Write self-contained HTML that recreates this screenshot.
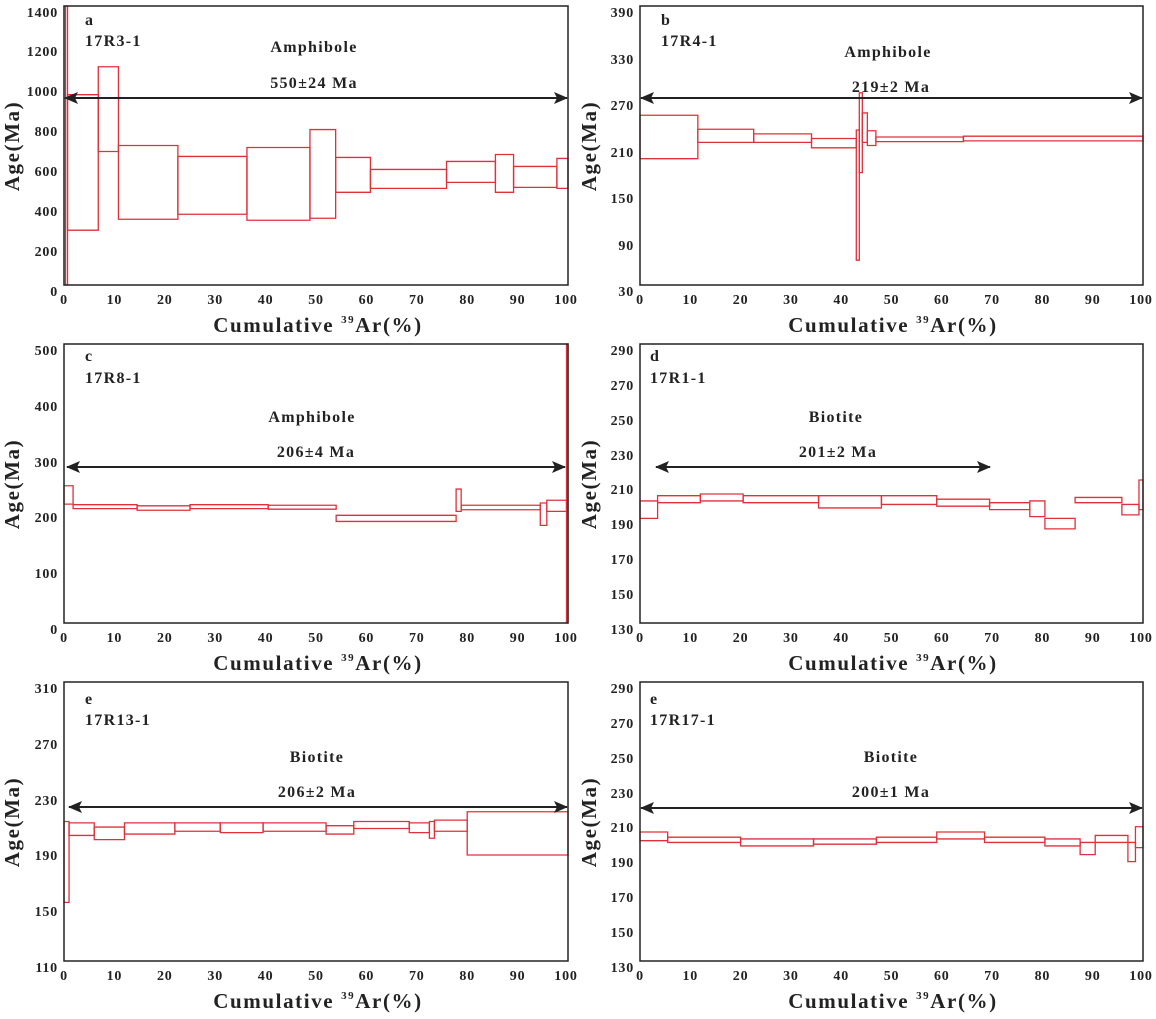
<!DOCTYPE html>
<html><head><meta charset="utf-8"><style>
html,body{margin:0;padding:0;background:#fff}
svg text{font-family:"Liberation Serif",serif;font-weight:bold;fill:#222}
.t{font-size:14px;letter-spacing:0.8px}
.ax{font-size:21px;letter-spacing:1.6px}
.lb{font-size:16px;letter-spacing:1.3px}
</style></head><body>
<svg width="1156" height="1014" xmlns="http://www.w3.org/2000/svg">
<defs>
<marker id="ah" markerWidth="14" markerHeight="12" refX="13" refY="6" orient="auto-start-reverse" markerUnits="userSpaceOnUse"><path d="M0,0 L14,6 L0,12 L3,6 Z" fill="#222"/></marker>
</defs>

<!-- Panel a -->
<g transform="translate(64,6)">
<svg x="0" y="0" width="504" height="279" viewBox="0 -1400 100 1400" preserveAspectRatio="none" overflow="visible">
<g fill="none" stroke="#e0303a" stroke-width="1.3">
<rect x="0.3" y="-1400" width="0.4" height="1400" vector-effect="non-scaling-stroke"/>
<rect x="0.7" y="-955" width="6.1" height="680" vector-effect="non-scaling-stroke"/>
<rect x="6.8" y="-1095" width="4" height="425" vector-effect="non-scaling-stroke"/>
<rect x="10.8" y="-700" width="11.8" height="370" vector-effect="non-scaling-stroke"/>
<rect x="22.6" y="-645" width="13.7" height="290" vector-effect="non-scaling-stroke"/>
<rect x="36.3" y="-690" width="12.5" height="365" vector-effect="non-scaling-stroke"/>
<rect x="48.8" y="-780" width="5.1" height="445" vector-effect="non-scaling-stroke"/>
<rect x="53.9" y="-640" width="6.9" height="175" vector-effect="non-scaling-stroke"/>
<rect x="60.8" y="-580" width="15.1" height="95" vector-effect="non-scaling-stroke"/>
<rect x="75.9" y="-620" width="9.7" height="105" vector-effect="non-scaling-stroke"/>
<rect x="85.6" y="-655" width="3.6" height="190" vector-effect="non-scaling-stroke"/>
<rect x="89.2" y="-595" width="8.6" height="105" vector-effect="non-scaling-stroke"/>
<rect x="97.8" y="-635" width="2.2" height="150" vector-effect="non-scaling-stroke"/>
</g></svg>
<line x1="1" y1="92" x2="503" y2="92" stroke="#222" stroke-width="2" marker-start="url(#ah)" marker-end="url(#ah)"/>
<text class="lb" x="250" y="46" text-anchor="middle">Amphibole</text>
<text class="lb" x="250" y="82" text-anchor="middle">550±24 Ma</text>
<text class="lb" x="21" y="19">a</text><text class="lb" x="21" y="40">17R3-1</text>
<g class="t" text-anchor="end">
<text x="-6" y="290">0</text><text x="-6" y="250">200</text><text x="-6" y="210">400</text><text x="-6" y="170">600</text><text x="-6" y="130">800</text><text x="-6" y="90">1000</text><text x="-6" y="50">1200</text><text x="-6" y="11">1400</text>
</g>
</g>

<!-- Panel b -->
<g transform="translate(640,6)">
<svg x="0" y="0" width="503" height="279" viewBox="0 -390 100 360" preserveAspectRatio="none" overflow="visible">
<g fill="none" stroke="#e0303a" stroke-width="1.3">
<rect x="0" y="-249" width="11.5" height="56" vector-effect="non-scaling-stroke"/>
<rect x="11.5" y="-231" width="11.1" height="17" vector-effect="non-scaling-stroke"/>
<rect x="22.6" y="-225" width="11.5" height="11" vector-effect="non-scaling-stroke"/>
<rect x="34.1" y="-219" width="8.9" height="12" vector-effect="non-scaling-stroke"/>
<rect x="43" y="-230" width="0.6" height="168" vector-effect="non-scaling-stroke"/>
<rect x="43.6" y="-278" width="0.6" height="103" vector-effect="non-scaling-stroke"/>
<rect x="44.2" y="-252" width="1" height="38" vector-effect="non-scaling-stroke"/>
<rect x="45.2" y="-229" width="1.7" height="19" vector-effect="non-scaling-stroke"/>
<rect x="46.9" y="-221" width="17.4" height="6" vector-effect="non-scaling-stroke"/>
<rect x="64.3" y="-222" width="35.7" height="6" vector-effect="non-scaling-stroke"/>
</g></svg>
<line x1="1" y1="92" x2="502" y2="92" stroke="#222" stroke-width="2" marker-start="url(#ah)" marker-end="url(#ah)"/>
<text class="lb" x="248" y="51" text-anchor="middle">Amphibole</text>
<text class="lb" x="251" y="86" text-anchor="middle">219±2 Ma</text>
<text class="lb" x="21" y="19">b</text><text class="lb" x="21" y="40">17R4-1</text>
<g class="t" text-anchor="end">
<text x="-6" y="290">30</text><text x="-6" y="244">90</text><text x="-6" y="197">150</text><text x="-6" y="151">210</text><text x="-6" y="104">270</text><text x="-6" y="58">330</text><text x="-6" y="11">390</text>
</g>
</g>

<!-- Panel c -->
<g transform="translate(64,344)">
<svg x="0" y="0" width="504" height="279" viewBox="0 -500 100 500" preserveAspectRatio="none" overflow="visible">
<g fill="none" stroke="#e0303a" stroke-width="1.3">
<rect x="0" y="-246" width="1.8" height="33" vector-effect="non-scaling-stroke"/>
<rect x="1.8" y="-212" width="12.7" height="7" vector-effect="non-scaling-stroke"/>
<rect x="14.5" y="-210" width="10.5" height="8" vector-effect="non-scaling-stroke"/>
<rect x="25" y="-212" width="15.5" height="7" vector-effect="non-scaling-stroke"/>
<rect x="40.5" y="-211" width="13.5" height="7" vector-effect="non-scaling-stroke"/>
<rect x="54" y="-193" width="23.8" height="11" vector-effect="non-scaling-stroke"/>
<rect x="77.8" y="-240" width="1" height="40" vector-effect="non-scaling-stroke"/>
<rect x="78.8" y="-211" width="15.7" height="8" vector-effect="non-scaling-stroke"/>
<rect x="94.5" y="-215" width="1.3" height="40" vector-effect="non-scaling-stroke"/>
<rect x="95.8" y="-220" width="3.9" height="20" vector-effect="non-scaling-stroke"/>
<rect x="99.7" y="-500" width="0.3" height="500" vector-effect="non-scaling-stroke"/>
</g></svg>
<line x1="3" y1="123" x2="501" y2="123" stroke="#222" stroke-width="2" marker-start="url(#ah)" marker-end="url(#ah)"/>
<text class="lb" x="248" y="78" text-anchor="middle">Amphibole</text>
<text class="lb" x="252" y="113" text-anchor="middle">206±4 Ma</text>
<text class="lb" x="21" y="17">c</text><text class="lb" x="21" y="39">17R8-1</text>
<g class="t" text-anchor="end">
<text x="-6" y="290">0</text><text x="-6" y="234">100</text><text x="-6" y="178">200</text><text x="-6" y="123">300</text><text x="-6" y="67">400</text><text x="-6" y="11">500</text>
</g>
</g>

<!-- Panel d -->
<g transform="translate(640,344)">
<svg x="0" y="0" width="503" height="279" viewBox="0 -290 100 160" preserveAspectRatio="none" overflow="visible">
<g fill="none" stroke="#e0303a" stroke-width="1.3">
<rect x="0" y="-200" width="3.5" height="10" vector-effect="non-scaling-stroke"/>
<rect x="3.5" y="-203" width="8.5" height="4" vector-effect="non-scaling-stroke"/>
<rect x="12" y="-204" width="8.5" height="4" vector-effect="non-scaling-stroke"/>
<rect x="20.5" y="-203" width="15" height="4" vector-effect="non-scaling-stroke"/>
<rect x="35.5" y="-203" width="12.5" height="7" vector-effect="non-scaling-stroke"/>
<rect x="48" y="-203" width="11" height="5" vector-effect="non-scaling-stroke"/>
<rect x="59" y="-201" width="10.5" height="4" vector-effect="non-scaling-stroke"/>
<rect x="69.5" y="-199" width="8" height="4" vector-effect="non-scaling-stroke"/>
<rect x="77.5" y="-200" width="3" height="9" vector-effect="non-scaling-stroke"/>
<rect x="80.5" y="-190" width="6" height="6" vector-effect="non-scaling-stroke"/>
<rect x="86.5" y="-202" width="9.3" height="3" vector-effect="non-scaling-stroke"/>
<rect x="95.8" y="-198" width="3.4" height="6" vector-effect="non-scaling-stroke"/>
<rect x="99.2" y="-212" width="0.8" height="17" vector-effect="non-scaling-stroke"/>
</g></svg>
<line x1="16" y1="123" x2="350" y2="123" stroke="#222" stroke-width="2" marker-start="url(#ah)" marker-end="url(#ah)"/>
<text class="lb" x="196" y="78" text-anchor="middle">Biotite</text>
<text class="lb" x="198" y="113" text-anchor="middle">201±2 Ma</text>
<text class="lb" x="10" y="17">d</text><text class="lb" x="10" y="39">17R1-1</text>
<g class="t" text-anchor="end">
<text x="-6" y="290">130</text><text x="-6" y="255">150</text><text x="-6" y="220">170</text><text x="-6" y="185">190</text><text x="-6" y="150">210</text><text x="-6" y="116">230</text><text x="-6" y="81">250</text><text x="-6" y="46">270</text><text x="-6" y="11">290</text>
</g>
</g>

<!-- Panel e -->
<g transform="translate(64,682)">
<svg x="0" y="0" width="504" height="279" viewBox="0 -310 100 200" preserveAspectRatio="none" overflow="visible">
<g fill="none" stroke="#e0303a" stroke-width="1.3">
<rect x="0" y="-210" width="1" height="58" vector-effect="non-scaling-stroke"/>
<rect x="1" y="-209" width="5" height="9" vector-effect="non-scaling-stroke"/>
<rect x="6" y="-206" width="6" height="9" vector-effect="non-scaling-stroke"/>
<rect x="12" y="-209" width="10" height="8" vector-effect="non-scaling-stroke"/>
<rect x="22" y="-209" width="9" height="6" vector-effect="non-scaling-stroke"/>
<rect x="31" y="-209" width="8.5" height="7" vector-effect="non-scaling-stroke"/>
<rect x="39.5" y="-209" width="12.5" height="6" vector-effect="non-scaling-stroke"/>
<rect x="52" y="-207" width="5.5" height="6" vector-effect="non-scaling-stroke"/>
<rect x="57.5" y="-210" width="11" height="5" vector-effect="non-scaling-stroke"/>
<rect x="68.5" y="-209" width="4" height="7" vector-effect="non-scaling-stroke"/>
<rect x="72.5" y="-210" width="1" height="12" vector-effect="non-scaling-stroke"/>
<rect x="73.5" y="-211" width="6.5" height="8" vector-effect="non-scaling-stroke"/>
<rect x="80" y="-217" width="20" height="31" vector-effect="non-scaling-stroke"/>
</g></svg>
<line x1="5" y1="125" x2="503" y2="125" stroke="#222" stroke-width="2" marker-start="url(#ah)" marker-end="url(#ah)"/>
<text class="lb" x="253" y="80" text-anchor="middle">Biotite</text>
<text class="lb" x="253" y="115" text-anchor="middle">206±2 Ma</text>
<text class="lb" x="21" y="22">e</text><text class="lb" x="21" y="43">17R13-1</text>
<g class="t" text-anchor="end">
<text x="-6" y="290">110</text><text x="-6" y="234">150</text><text x="-6" y="178">190</text><text x="-6" y="123">230</text><text x="-6" y="67">270</text><text x="-6" y="11">310</text>
</g>
</g>

<!-- Panel f -->
<g transform="translate(640,682)">
<svg x="0" y="0" width="503" height="279" viewBox="0 -290 100 160" preserveAspectRatio="none" overflow="visible">
<g fill="none" stroke="#e0303a" stroke-width="1.3">
<rect x="0" y="-204" width="5.5" height="5" vector-effect="non-scaling-stroke"/>
<rect x="5.5" y="-201" width="14.5" height="3" vector-effect="non-scaling-stroke"/>
<rect x="20" y="-200" width="14.5" height="4" vector-effect="non-scaling-stroke"/>
<rect x="34.5" y="-200" width="12.5" height="3" vector-effect="non-scaling-stroke"/>
<rect x="47" y="-201" width="12" height="3" vector-effect="non-scaling-stroke"/>
<rect x="59" y="-204" width="9.5" height="4" vector-effect="non-scaling-stroke"/>
<rect x="68.5" y="-201" width="12" height="3" vector-effect="non-scaling-stroke"/>
<rect x="80.5" y="-200" width="7" height="4" vector-effect="non-scaling-stroke"/>
<rect x="87.5" y="-198" width="3" height="7" vector-effect="non-scaling-stroke"/>
<rect x="90.5" y="-202" width="6.5" height="4" vector-effect="non-scaling-stroke"/>
<rect x="97" y="-198" width="1.5" height="11" vector-effect="non-scaling-stroke"/>
<rect x="98.5" y="-207" width="1.5" height="12" vector-effect="non-scaling-stroke"/>
</g></svg>
<line x1="1" y1="126" x2="502" y2="126" stroke="#222" stroke-width="2" marker-start="url(#ah)" marker-end="url(#ah)"/>
<text class="lb" x="251" y="80" text-anchor="middle">Biotite</text>
<text class="lb" x="251" y="115" text-anchor="middle">200±1 Ma</text>
<text class="lb" x="10" y="22">e</text><text class="lb" x="10" y="43">17R17-1</text>
<g class="t" text-anchor="end">
<text x="-6" y="290">130</text><text x="-6" y="255">150</text><text x="-6" y="220">170</text><text x="-6" y="185">190</text><text x="-6" y="150">210</text><text x="-6" y="116">230</text><text x="-6" y="81">250</text><text x="-6" y="46">270</text><text x="-6" y="11">290</text>
</g>
</g>

<!-- frames, x ticks, axis titles -->
<g fill="none" stroke="#222" stroke-width="1.5">
<rect x="64" y="6" width="504" height="279"/><rect x="640" y="6" width="503" height="279"/>
<rect x="64" y="344" width="504" height="279"/><rect x="640" y="344" width="503" height="279"/>
<rect x="64" y="682" width="504" height="279"/><rect x="640" y="682" width="503" height="279"/>
</g>
<g class="t" text-anchor="middle">
<g transform="translate(64,304)"><text x="0">0</text><text x="50.4">10</text><text x="100.8">20</text><text x="151.2">30</text><text x="201.6">40</text><text x="252">50</text><text x="302.4">60</text><text x="352.8">70</text><text x="403.2">80</text><text x="453.6">90</text><text x="502">100</text></g>
<g transform="translate(640,304)"><text x="0">0</text><text x="50.3">10</text><text x="100.6">20</text><text x="150.9">30</text><text x="201.2">40</text><text x="251.5">50</text><text x="301.8">60</text><text x="352.1">70</text><text x="402.4">80</text><text x="452.7">90</text><text x="501">100</text></g>
<g transform="translate(64,642)"><text x="0">0</text><text x="50.4">10</text><text x="100.8">20</text><text x="151.2">30</text><text x="201.6">40</text><text x="252">50</text><text x="302.4">60</text><text x="352.8">70</text><text x="403.2">80</text><text x="453.6">90</text><text x="502">100</text></g>
<g transform="translate(640,642)"><text x="0">0</text><text x="50.3">10</text><text x="100.6">20</text><text x="150.9">30</text><text x="201.2">40</text><text x="251.5">50</text><text x="301.8">60</text><text x="352.1">70</text><text x="402.4">80</text><text x="452.7">90</text><text x="501">100</text></g>
<g transform="translate(64,980)"><text x="0">0</text><text x="50.4">10</text><text x="100.8">20</text><text x="151.2">30</text><text x="201.6">40</text><text x="252">50</text><text x="302.4">60</text><text x="352.8">70</text><text x="403.2">80</text><text x="453.6">90</text><text x="502">100</text></g>
<g transform="translate(640,980)"><text x="0">0</text><text x="50.3">10</text><text x="100.6">20</text><text x="150.9">30</text><text x="201.2">40</text><text x="251.5">50</text><text x="301.8">60</text><text x="352.1">70</text><text x="402.4">80</text><text x="452.7">90</text><text x="501">100</text></g>
</g>
<g class="ax" text-anchor="middle">
<text x="318" y="332">Cumulative <tspan font-size="11" dy="-9">39</tspan><tspan dy="9">Ar(%)</tspan></text>
<text x="893" y="332">Cumulative <tspan font-size="11" dy="-9">39</tspan><tspan dy="9">Ar(%)</tspan></text>
<text x="318" y="670">Cumulative <tspan font-size="11" dy="-9">39</tspan><tspan dy="9">Ar(%)</tspan></text>
<text x="893" y="670">Cumulative <tspan font-size="11" dy="-9">39</tspan><tspan dy="9">Ar(%)</tspan></text>
<text x="318" y="1008">Cumulative <tspan font-size="11" dy="-9">39</tspan><tspan dy="9">Ar(%)</tspan></text>
<text x="893" y="1008">Cumulative <tspan font-size="11" dy="-9">39</tspan><tspan dy="9">Ar(%)</tspan></text>
<text transform="translate(19,146) rotate(-90)">Age(Ma)</text>
<text transform="translate(596,146) rotate(-90)">Age(Ma)</text>
<text transform="translate(19,484) rotate(-90)">Age(Ma)</text>
<text transform="translate(596,484) rotate(-90)">Age(Ma)</text>
<text transform="translate(19,822) rotate(-90)">Age(Ma)</text>
<text transform="translate(596,822) rotate(-90)">Age(Ma)</text>
</g>
</svg>
</body></html>
